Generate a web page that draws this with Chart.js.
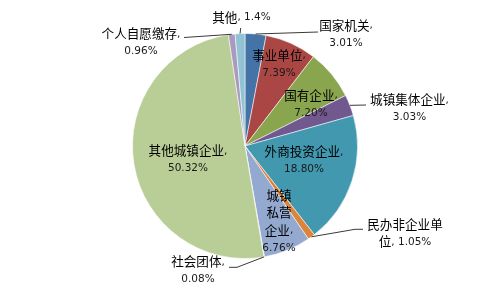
<!DOCTYPE html>
<html>
<head>
<meta charset="utf-8">
<script src="https://cdn.jsdelivr.net/npm/chart.js@4/dist/chart.umd.min.js"></script>
<style>
  html, body { margin: 0; padding: 0; background: #fff; }
  #wrap { width: 504px; height: 294px; }
</style>
</head>
<body>
<div id="wrap"><canvas id="pie" width="504" height="294"></canvas></div>
<script>
// Share of contributors by employer type (%)
const categories = ['国家机关', '事业单位', '国有企业', '城镇集体企业', '外商投资企业', '民办非企业单位', '城镇私营企业', '社会团体', '其他城镇企业', '个人自愿缴存', '其他'];
const shares = [3.01, 7.39, 7.20, 3.03, 18.80, 1.05, 6.76, 0.08, 50.32, 0.96, 1.4];
const shareText = ['3.01%', '7.39%', '7.20%', '3.03%', '18.80%', '1.05%', '6.76%', '0.08%', '50.32%', '0.96%', '1.4%'];
const colors = ['#4572A7', '#AA4643', '#89A54E', '#71588F', '#4198AF', '#DB843D', '#93A9CF', '#D19392', '#B9CD96', '#A99BBD', '#91C3D5'];

// Label placement relative to the pie centre: first-line centre (dx, dy),
// how the name is broken into lines, whether the percentage shares the last line,
// and optional leader-line elbow/end points.
const labelLayout = [
  { dx: 101, dy: -121, breaks: [4], inline: false, leader: [[73, -114]] },
  { dx: 34, dy: -91, breaks: [4], inline: false },
  { dx: 66, dy: -51, breaks: [4], inline: false },
  { dx: 164.5, dy: -46.5, breaks: [6], inline: false, leader: [[121, -41]] },
  { dx: 59, dy: 5.5, breaks: [6], inline: false },
  { dx: 160, dy: 78, breaks: [6, 1], inline: true, leader: [[110, 83.3], [118, 83.3]] },
  { dx: 34, dy: 49, breaks: [2, 2, 2], inline: false },
  { dx: -47, dy: 115.7, breaks: [4], inline: false, leader: [[-8, 121.3], [-16, 121.3]] },
  { dx: -57, dy: 4.7, breaks: [6], inline: false },
  { dx: -104, dy: -112.7, breaks: [6], inline: false, leader: [[-61, -108.5]] },
  { dx: -3.5, dy: -129, breaks: [2], inline: true, leader: [[-4.3, -118]] }
];

const LINE_GAP = 17.5;
const CJK_FONT = '12.6px "Noto Sans CJK SC", "Noto Sans CJK JP", sans-serif';
const NUM_FONT = '10.5px "DejaVu Sans", sans-serif';

function buildLines(i) {
  const name = categories[i];
  const lay = labelLayout[i];
  const lines = [];
  let pos = 0;
  lay.breaks.forEach(n => { lines.push(name.slice(pos, pos + n)); pos += n; });
  lines[lines.length - 1] += ',';
  if (lay.inline) lines[lines.length - 1] += ' ' + shareText[i];
  else lines.push(shareText[i]);
  return lines;
}

function splitRuns(str) {
  return str.match(/[\u3000-\u9fff\uff00-\uffef]+|[^\u3000-\u9fff\uff00-\uffef]+/g) || [];
}

function drawMixed(ctx, str, cx, cy) {
  const runs = splitRuns(str).map(t => {
    const cjk = /[\u3000-\u9fff\uff00-\uffef]/.test(t);
    ctx.font = cjk ? CJK_FONT : NUM_FONT;
    return { t, cjk, w: ctx.measureText(t).width };
  });
  const total = runs.reduce((s, r) => s + r.w, 0);
  let x = cx - total / 2;
  runs.forEach(r => {
    ctx.font = r.cjk ? CJK_FONT : NUM_FONT;
    ctx.fillStyle = r.cjk ? '#000' : '#1a1a1a';
    ctx.fillText(r.t, x, cy + (r.cjk ? 0 : 0.5));
    x += r.w;
  });
}

const sliceLabels = {
  id: 'sliceLabels',
  afterDatasetsDraw(chart) {
    const ctx = chart.ctx;
    const meta = chart.getDatasetMeta(0);
    ctx.save();
    ctx.textAlign = 'left';
    ctx.textBaseline = 'middle';
    meta.data.forEach((arc, i) => {
      const p = arc.getProps(['x', 'y', 'startAngle', 'endAngle', 'outerRadius'], true);
      const lay = labelLayout[i];
      if (lay.leader) {
        const mid = (p.startAngle + p.endAngle) / 2;
        ctx.beginPath();
        ctx.moveTo(p.x + Math.cos(mid) * p.outerRadius, p.y + Math.sin(mid) * p.outerRadius);
        lay.leader.forEach(([lx, ly]) => ctx.lineTo(p.x + lx, p.y + ly));
        ctx.strokeStyle = '#3a3a3a';
        ctx.lineWidth = 1;
        ctx.stroke();
      }
      buildLines(i).forEach((line, k) => {
        drawMixed(ctx, line, p.x + lay.dx, p.y + lay.dy + k * LINE_GAP);
      });
    });
    ctx.restore();
  }
};

new Chart(document.getElementById('pie'), {
  type: 'pie',
  data: {
    labels: categories,
    datasets: [{
      data: shares,
      backgroundColor: colors,
      borderColor: 'rgba(255,255,255,0.55)',
      borderWidth: 1
    }]
  },
  options: {
    responsive: false,
    devicePixelRatio: 1,
    animation: false,
    layout: { padding: { left: 132, right: 146, top: 33, bottom: 35 } },
    plugins: {
      legend: { display: false },
      tooltip: { enabled: false }
    }
  },
  plugins: [sliceLabels]
});
</script>
</body>
</html>
